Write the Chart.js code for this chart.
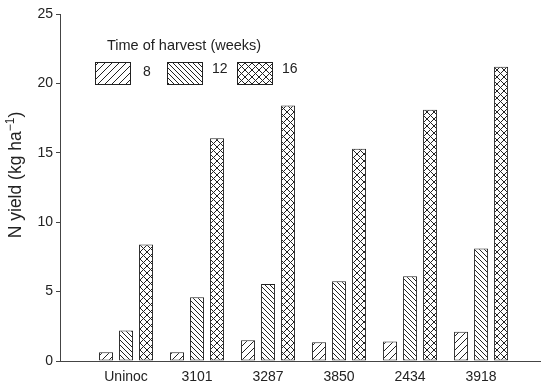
<!DOCTYPE html>
<html>
<head>
<meta charset="utf-8">
<script src="https://cdn.jsdelivr.net/npm/chart.js@4"></script>
<style>
  body { margin: 0; background: #fff; }
  #wrap { width: 548px; height: 388px; }
</style>
</head>
<body>
<div id="wrap"><canvas id="yieldChart" width="548" height="388"></canvas></div>
<script>
const categories = ['Uninoc', '3101', '3287', '3850', '2434', '3918'];
const harvestWeeks = ['8', '12', '16'];
const weeks8 = [0.63, 0.63, 1.5, 1.35, 1.4, 2.1];
const weeks12 = [2.2, 4.6, 5.55, 5.75, 6.1, 8.1];
const weeks16 = [8.4, 16.05, 18.4, 15.3, 18.1, 21.2];
const yTicks = [0, 5, 10, 15, 20, 25];

const INK = '#222';
const FONT = 'Liberation Sans, Arial, Helvetica, sans-serif';

// hatch fills: '/' , '\' and crosshatch
function makePattern(kind, size) {
  const c = document.createElement('canvas');
  c.width = size;
  c.height = size;
  const g = c.getContext('2d');
  g.strokeStyle = INK;
  g.lineWidth = 1;
  g.fillStyle = '#fff';
  g.fillRect(0, 0, size, size);
  const fwd = () => {
    g.beginPath();
    g.moveTo(-1, size + 1); g.lineTo(size + 1, -1);
    g.moveTo(-1, 1); g.lineTo(1, -1);
    g.moveTo(size - 1, size + 1); g.lineTo(size + 1, size - 1);
    g.stroke();
  };
  const back = () => {
    g.beginPath();
    g.moveTo(-1, -1); g.lineTo(size + 1, size + 1);
    g.moveTo(size - 1, -1); g.lineTo(size + 1, 1);
    g.moveTo(-1, size - 1); g.lineTo(1, size + 1);
    g.stroke();
  };
  if (kind === 'fwd' || kind === 'cross') fwd();
  if (kind === 'back' || kind === 'cross') back();
  return g.createPattern(c, 'repeat');
}

const fills = [makePattern('fwd', 7), makePattern('back', 5), makePattern('cross', 7)];

const toPoints = arr => arr.map((v, i) => ({ x: i + 1, y: v }));

// legend drawn inside the plot area, boxes in a row under a heading
const harvestLegend = {
  id: 'harvestLegend',
  afterDraw(chart) {
    const ctx = chart.ctx;
    ctx.save();
    ctx.fillStyle = INK;
    ctx.font = '14.5px ' + FONT;
    ctx.textBaseline = 'alphabetic';
    ctx.textAlign = 'left';
    ctx.fillText('Time of harvest (weeks)', 107, 50);
    const boxes = [[95, 143, 75.5], [167, 212, 72.5], [237, 282, 72.5]];
    chart.data.datasets.forEach((ds, i) => {
      const [bx, tx, ty] = boxes[i];
      ctx.fillStyle = ds.backgroundColor;
      ctx.fillRect(bx, 62, 36, 23);
      ctx.strokeStyle = INK;
      ctx.lineWidth = 1;
      ctx.strokeRect(bx + 0.5, 62.5, 35, 22);
      ctx.fillStyle = INK;
      ctx.font = '14px ' + FONT;
      ctx.fillText(ds.label, tx, ty);
    });
    ctx.restore();
  }
};

// rotated y title with a superscript exponent
const yTitle = {
  id: 'yTitle',
  afterDraw(chart) {
    const ctx = chart.ctx;
    const main = 'N yield (kg ha';
    const sup = '\u22121';
    ctx.save();
    ctx.translate(21, 175);
    ctx.rotate(-Math.PI / 2);
    ctx.fillStyle = INK;
    ctx.textBaseline = 'alphabetic';
    ctx.textAlign = 'left';
    ctx.font = '17.5px ' + FONT;
    const w1 = ctx.measureText(main).width;
    const w3 = ctx.measureText(')').width;
    ctx.font = '12px ' + FONT;
    const w2 = ctx.measureText(sup).width;
    let x = -(w1 + w2 + w3) / 2;
    ctx.font = '17.5px ' + FONT;
    ctx.fillText(main, x, 0);
    x += w1;
    ctx.font = '12px ' + FONT;
    ctx.fillText(sup, x, -7);
    x += w2;
    ctx.font = '17.5px ' + FONT;
    ctx.fillText(')', x, 0);
    ctx.restore();
  }
};

new Chart(document.getElementById('yieldChart'), {
  type: 'bar',
  data: {
    datasets: [weeks8, weeks12, weeks16].map((vals, i) => ({
      label: harvestWeeks[i],
      data: toPoints(vals),
      backgroundColor: fills[i],
      borderColor: INK,
      borderWidth: 1,
      borderSkipped: false,
      categoryPercentage: 0.845,
      barPercentage: 0.7
    }))
  },
  options: {
    responsive: false,
    animation: false,
    layout: { padding: { top: 14, right: 8, left: 0, bottom: 0 } },
    plugins: { legend: { display: false }, tooltip: { enabled: false } },
    scales: {
      x: {
        type: 'linear',
        min: 0.07,
        max: 6.83,
        offset: false,
        grid: { display: false, drawTicks: false, offset: false },
        border: { display: true, color: '#444', width: 1 },
        afterBuildTicks: s => { s.ticks = categories.map((c, i) => ({ value: i + 1 })); },
        afterFit: s => { s.height = 27; },
        ticks: {
          padding: 8,
          color: INK,
          font: { family: FONT, size: 14 },
          callback: v => categories[v - 1] || ''
        }
      },
      y: {
        min: 0,
        max: 25,
        grid: { drawOnChartArea: false, tickLength: 4, color: '#444' },
        border: { display: true, color: '#444', width: 1 },
        afterBuildTicks: s => { s.ticks = yTicks.map(v => ({ value: v })); },
        afterFit: s => { s.width = 60; },
        ticks: {
          padding: 3,
          color: INK,
          font: { family: FONT, size: 14 }
        }
      }
    }
  },
  plugins: [harvestLegend, yTitle]
});
</script>
</body>
</html>
